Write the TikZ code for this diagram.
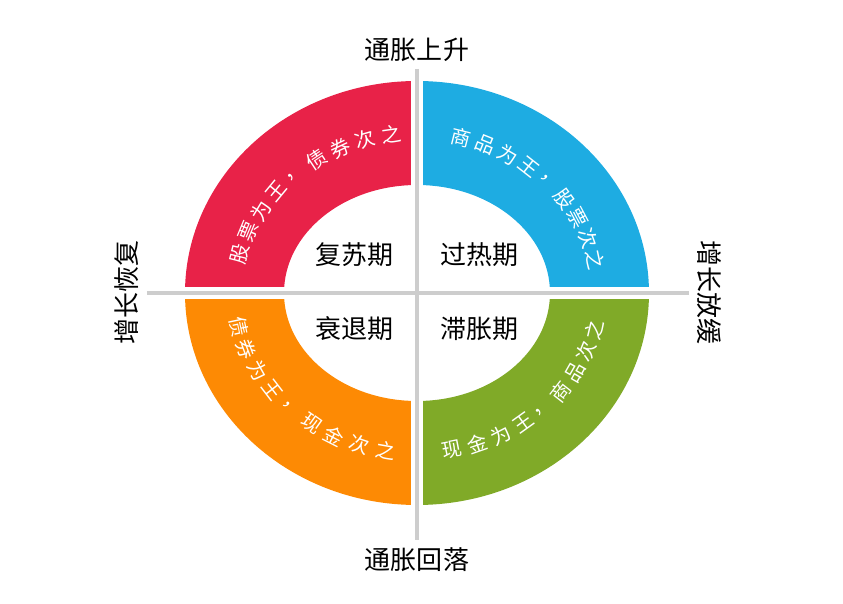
\documentclass[tikz,border=0pt]{standalone}
\usepackage{fontspec}
\setmainfont{Noto Sans CJK SC}
\usetikzlibrary{positioning}
\definecolor{ringred}{RGB}{232,34,72}
\definecolor{ringblue}{RGB}{30,172,226}
\definecolor{ringorange}{RGB}{253,138,4}
\definecolor{ringgreen}{RGB}{128,170,40}
\definecolor{axisgray}{RGB}{205,205,205}

\begin{document}
\begin{tikzpicture}[x=1pt,y=1pt,
            ring/.style={even odd rule},
            phase/.style={font=\fontsize{26}{28}\selectfont},
            axislabel/.style={font=\fontsize{26}{28}\selectfont},
            ringchar/.style={text=white, font=\fontsize{20}{22}\selectfont, inner sep=0pt}
  ]
  \useasboundingbox (-417,-311) rectangle (426,293);

  % quadrants of the ring
  \begin{scope}
    \clip (-300,0) rectangle (0,300);
    \fill[ringred, ring] (0,0) ellipse (232 and 212) (0,0) ellipse (133 and 108);
  \end{scope}
  \begin{scope}
    \clip (0,0) rectangle (300,300);
    \fill[ringblue, ring] (0,0) ellipse (232 and 212) (0,0) ellipse (133 and 108);
  \end{scope}
  \begin{scope}
    \clip (-300,0) rectangle (0,-300);
    \fill[ringorange, ring] (0,0) ellipse (232 and 212) (0,0) ellipse (133 and 108);
  \end{scope}
  \begin{scope}
    \clip (0,0) rectangle (300,-300);
    \fill[ringgreen, ring] (0,0) ellipse (232 and 212) (0,0) ellipse (133 and 108);
  \end{scope}

  % axes
  \coordinate (top) at (0,224);
  \coordinate (bottom) at (0,-247);
  \coordinate (left) at (-270,0);
  \coordinate (right) at (272,0);
  \draw[white, line width=12pt] (top) -- (bottom) (left) -- (right);
  \draw[axisgray, line width=4pt] (top) -- (bottom) (left) -- (right);

  % phase names
  \node[phase] (recovery) at (-62,38) {复苏期};
  \node[phase] (overheat) at (62,38) {过热期};
  \node[phase] (recession) at (-62,-36) {衰退期};
  \node[phase] (stagflation) at (62,-36) {滞胀期};

  % axis labels
  \node[axislabel] (influp) [above=4pt of top] {通胀上升};
  \node[axislabel] (infldown) [below=4pt of bottom] {通胀回落};
  \node[axislabel, rotate=90] (growthup) at (-290,0) {增长恢复};
  \node[axislabel, rotate=-90] (growthdown) at (292,0) {增长放缓};

  % ring texts
  \foreach \c [count=\i from 0] in {股,票,为,王,，,债,券,次,之} {
    \pgfmathsetmacro{\t}{166-8.5*\i}
    \node[ringchar, rotate=\t-90] at ({182*cos(\t)},{160*sin(\t)}) {\c};
  }
  \foreach \c [count=\i from 0] in {商,品,为,王,，,股,票,次,之} {
    \pgfmathsetmacro{\t}{76-8*\i}
    \node[ringchar, rotate=\t-90] at ({182*cos(\t)},{160*sin(\t)}) {\c};
  }
  \foreach \c [count=\i from 0] in {债,券,为,王,，,现,金,次,之} {
    \pgfmathsetmacro{\t}{192+8.5*\i}
    \node[ringchar, rotate=\t+90] at ({182*cos(\t)},{160*sin(\t)}) {\c};
  }
  \foreach \c [count=\i from 0] in {现,金,为,王,，,商,品,次,之} {
    \pgfmathsetmacro{\t}{281+8.2*\i}
    \node[ringchar, rotate=\t+90] at ({182*cos(\t)},{160*sin(\t)}) {\c};
  }
\end{tikzpicture}
\end{document}
